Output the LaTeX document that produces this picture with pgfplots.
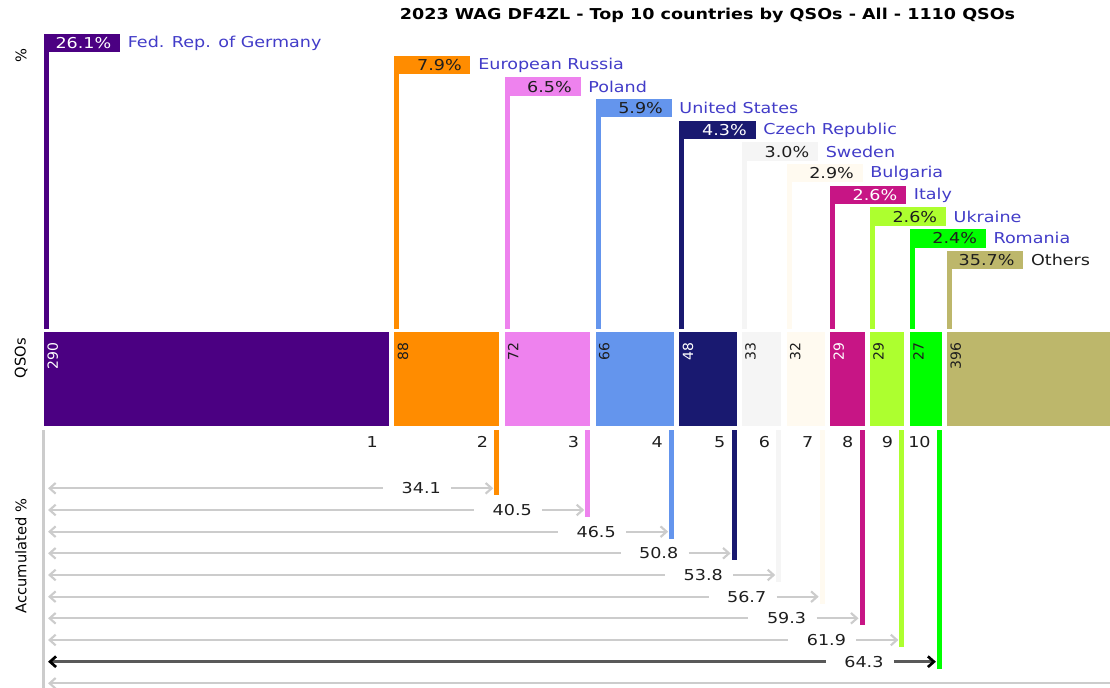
\documentclass[border=0pt]{standalone}
\usepackage{pgfplots}
\pgfplotsset{compat=1.18}
\usetikzlibrary{arrows.meta}
\usepackage{fontspec}
\setmainfont{DejaVu Sans}[FakeStretch=1.17]
\newfontfamily\rotfont{DejaVu Sans}[FakeStretch=1.0]
\newcommand\lbl{\fontsize{11.25pt}{13pt}\selectfont}
\newcommand\rotn{\rotfont\fontsize{10.5pt}{12pt}\selectfont}
\newcommand\axl{\rotfont\fontsize{11pt}{13pt}\selectfont}
\definecolor{cGer}{RGB}{75,0,130}
\definecolor{cRus}{RGB}{255,140,0}
\definecolor{cPol}{RGB}{238,130,238}
\definecolor{cUS}{RGB}{100,149,237}
\definecolor{cCze}{RGB}{25,25,112}
\definecolor{cSwe}{RGB}{245,245,245}
\definecolor{cBul}{RGB}{255,250,240}
\definecolor{cIta}{RGB}{199,21,133}
\definecolor{cUkr}{RGB}{173,255,47}
\definecolor{cRom}{RGB}{0,255,0}
\definecolor{cOth}{RGB}{189,183,107}
\definecolor{lblue}{RGB}{66,60,200}
\definecolor{agray}{RGB}{204,204,204}
\definecolor{tdark}{RGB}{30,30,30}
\begin{document}
\begin{tikzpicture}
\begin{axis}[
  width=832.5pt, height=516pt, scale only axis,
  xmin=-36.97, xmax=895.8, ymin=0, ymax=688, y dir=reverse,
  hide axis, clip=true,
  every node/.append style={inner sep=0pt},
  box/.style={draw=none},
  vline/.style={line width=3.75pt},
  gar/.style={draw=agray, line width=1.6pt},
  lefthead/.style={arrows={Straight Barb[length=4.5pt,width=8pt]-}},
  righthead/.style={arrows={-Straight Barb[length=4.5pt,width=8pt]}},
]
% ---------- QSO bars (x = cumulative QSOs with gaps) ----------
\addplot[box, fill=cGer] coordinates {(0,332) (290,332) (290,426) (0,426)};
\addplot[box, fill=cRus] coordinates {(294.5,332) (382.5,332) (382.5,426) (294.5,426)};
\addplot[box, fill=cPol] coordinates {(387,332) (459,332) (459,426) (387,426)};
\addplot[box, fill=cUS]  coordinates {(463.5,332) (529.5,332) (529.5,426) (463.5,426)};
\addplot[box, fill=cCze] coordinates {(534,332) (582,332) (582,426) (534,426)};
\addplot[box, fill=cSwe] coordinates {(586.5,332) (619.5,332) (619.5,426) (586.5,426)};
\addplot[box, fill=cBul] coordinates {(624,332) (656,332) (656,426) (624,426)};
\addplot[box, fill=cIta] coordinates {(660.5,332) (689.5,332) (689.5,426) (660.5,426)};
\addplot[box, fill=cUkr] coordinates {(694,332) (723,332) (723,426) (694,426)};
\addplot[box, fill=cRom] coordinates {(727.5,332) (754.5,332) (754.5,426) (727.5,426)};
\addplot[box, fill=cOth] coordinates {(759,332) (1155,332) (1155,426) (759,426)};
% ---------- percentage boxes ----------
\addplot[box, fill=cGer] coordinates {(0,34) (63.9,34) (63.9,52.5) (0,52.5)};
\addplot[box, fill=cRus] coordinates {(294.5,55.67) (358.4,55.67) (358.4,74.17) (294.5,74.17)};
\addplot[box, fill=cPol] coordinates {(387,77.33) (450.9,77.33) (450.9,95.83) (387,95.83)};
\addplot[box, fill=cUS]  coordinates {(463.5,99) (527.4,99) (527.4,117.5) (463.5,117.5)};
\addplot[box, fill=cCze] coordinates {(534,120.67) (597.9,120.67) (597.9,139.17) (534,139.17)};
\addplot[box, fill=cSwe] coordinates {(586.5,142.33) (650.4,142.33) (650.4,160.83) (586.5,160.83)};
\addplot[box, fill=cBul] coordinates {(624,164) (687.9,164) (687.9,182.5) (624,182.5)};
\addplot[box, fill=cIta] coordinates {(660.5,185.67) (724.4,185.67) (724.4,204.17) (660.5,204.17)};
\addplot[box, fill=cUkr] coordinates {(694,207.33) (757.9,207.33) (757.9,225.83) (694,225.83)};
\addplot[box, fill=cRom] coordinates {(727.5,229) (791.4,229) (791.4,247.5) (727.5,247.5)};
\addplot[box, fill=cOth] coordinates {(759,250.67) (822.9,250.67) (822.9,269.17) (759,269.17)};
% ---------- top vertical lines ----------
\addplot[vline, draw=cGer] coordinates {(2.1,44) (2.1,329)};
\addplot[vline, draw=cRus] coordinates {(296.6,65) (296.6,329)};
\addplot[vline, draw=cPol] coordinates {(389.1,86) (389.1,329)};
\addplot[vline, draw=cUS]  coordinates {(465.6,108) (465.6,329)};
\addplot[vline, draw=cCze] coordinates {(536.1,130) (536.1,329)};
\addplot[vline, draw=cSwe] coordinates {(588.6,151) (588.6,329)};
\addplot[vline, draw=cBul] coordinates {(626.1,173) (626.1,329)};
\addplot[vline, draw=cIta] coordinates {(662.6,195) (662.6,329)};
\addplot[vline, draw=cUkr] coordinates {(696.1,216) (696.1,329)};
\addplot[vline, draw=cRom] coordinates {(729.6,238) (729.6,329)};
\addplot[vline, draw=cOth] coordinates {(761.1,260) (761.1,329)};
% ---------- bottom section ----------
\addplot[draw=agray, line width=2.2pt] coordinates {(-0.4,430) (-0.4,688)};
\addplot[vline, draw=cRus] coordinates {(380.4,430) (380.4,495.3)};
\addplot[vline, draw=cPol] coordinates {(456.9,430) (456.9,517)};
\addplot[vline, draw=cUS]  coordinates {(527.4,430) (527.4,538.7)};
\addplot[vline, draw=cCze] coordinates {(579.9,430) (579.9,560.3)};
\addplot[vline, draw=cSwe] coordinates {(617.4,430) (617.4,582)};
\addplot[vline, draw=cBul] coordinates {(653.9,430) (653.9,603.7)};
\addplot[vline, draw=cIta] coordinates {(687.4,430) (687.4,625.3)};
\addplot[vline, draw=cUkr] coordinates {(720.9,430) (720.9,647)};
\addplot[vline, draw=cRom] coordinates {(752.4,430) (752.4,668.7)};
% accumulated arrows
\addplot[gar, lefthead]  coordinates {(3.4,488.3) (285,488.3)};
\addplot[gar, righthead] coordinates {(342.2,488.3) (377.5,488.3)};
\addplot[gar, lefthead]  coordinates {(3.4,510) (361.5,510)};
\addplot[gar, righthead] coordinates {(418.7,510) (454,510)};
\addplot[gar, lefthead]  coordinates {(3.4,531.7) (432,531.7)};
\addplot[gar, righthead] coordinates {(489.2,531.7) (524.5,531.7)};
\addplot[gar, lefthead]  coordinates {(3.4,553.3) (484.5,553.3)};
\addplot[gar, righthead] coordinates {(541.7,553.3) (577,553.3)};
\addplot[gar, lefthead]  coordinates {(3.4,575) (522,575)};
\addplot[gar, righthead] coordinates {(579.2,575) (614.5,575)};
\addplot[gar, lefthead]  coordinates {(3.4,596.7) (558.5,596.7)};
\addplot[gar, righthead] coordinates {(615.7,596.7) (651,596.7)};
\addplot[gar, lefthead]  coordinates {(3.4,618.3) (592,618.3)};
\addplot[gar, righthead] coordinates {(649.2,618.3) (684.5,618.3)};
\addplot[gar, lefthead]  coordinates {(3.4,640) (625.5,640)};
\addplot[gar, righthead] coordinates {(682.7,640) (718,640)};
\addplot[draw=black!65, line width=2pt, arrows={Straight Barb[length=4.5pt,width=8pt,color=black]-}] coordinates {(3.4,661.7) (657,661.7)};
\addplot[draw=black!65, line width=2pt, arrows={-Straight Barb[length=4.5pt,width=8pt,color=black]}] coordinates {(714.2,661.7) (749.5,661.7)};
\addplot[gar, lefthead]  coordinates {(3.4,683.3) (1057.5,683.3)};
% ---------- texts ----------
\node[font=\lbl\bfseries, text=black] at (axis cs:557.6,15) {2023 WAG DF4ZL - Top 10 countries by QSOs - All - 1110 QSOs};
\node[font=\axl, rotate=90] at (axis cs:-19.3,56) {\%};
\node[font=\axl, rotate=90] at (axis cs:-19.3,358) {QSOs};
\node[font=\axl, rotate=90] at (axis cs:-19.3,556) {Accumulated \%};
% percentages
\node[font=\lbl, anchor=east, text=white] at (axis cs:60.5,43.25) {26.1\%};
\node[font=\lbl, anchor=east, text=tdark] at (axis cs:355,64.92) {7.9\%};
\node[font=\lbl, anchor=east, text=tdark] at (axis cs:447.5,86.58) {6.5\%};
\node[font=\lbl, anchor=east, text=tdark] at (axis cs:524,108.25) {5.9\%};
\node[font=\lbl, anchor=east, text=white] at (axis cs:594.5,129.92) {4.3\%};
\node[font=\lbl, anchor=east, text=tdark] at (axis cs:647,151.58) {3.0\%};
\node[font=\lbl, anchor=east, text=tdark] at (axis cs:684.5,173.25) {2.9\%};
\node[font=\lbl, anchor=east, text=white] at (axis cs:721,194.92) {2.6\%};
\node[font=\lbl, anchor=east, text=tdark] at (axis cs:754.5,216.58) {2.6\%};
\node[font=\lbl, anchor=east, text=tdark] at (axis cs:788,238.25) {2.4\%};
\node[font=\lbl, anchor=east, text=tdark] at (axis cs:819.5,259.92) {35.7\%};
% country names
\node[font=\lbl, anchor=west, text=lblue] at (axis cs:66.5,43.25) {Fed. Rep. of Germany};
\node[font=\lbl, anchor=west, text=lblue] at (axis cs:361,64.92) {European Russia};
\node[font=\lbl, anchor=west, text=lblue] at (axis cs:453.5,86.58) {Poland};
\node[font=\lbl, anchor=west, text=lblue] at (axis cs:530,108.25) {United States};
\node[font=\lbl, anchor=west, text=lblue] at (axis cs:600.5,129.92) {Czech Republic};
\node[font=\lbl, anchor=west, text=lblue] at (axis cs:653,151.58) {Sweden};
\node[font=\lbl, anchor=west, text=lblue] at (axis cs:690.5,173.25) {Bulgaria};
\node[font=\lbl, anchor=west, text=lblue] at (axis cs:727,194.92) {Italy};
\node[font=\lbl, anchor=west, text=lblue] at (axis cs:760.5,216.58) {Ukraine};
\node[font=\lbl, anchor=west, text=lblue] at (axis cs:794,238.25) {Romania};
\node[font=\lbl, anchor=west, text=tdark] at (axis cs:825.5,259.92) {Others};
% QSO counts (rotated)
\node[font=\rotn, rotate=90, anchor=east, text=white] at (axis cs:7.3,338) {290};
\node[font=\rotn, rotate=90, anchor=east, text=tdark] at (axis cs:301.8,338) {88};
\node[font=\rotn, rotate=90, anchor=east, text=tdark] at (axis cs:394.3,338) {72};
\node[font=\rotn, rotate=90, anchor=east, text=tdark] at (axis cs:470.8,338) {66};
\node[font=\rotn, rotate=90, anchor=east, text=white] at (axis cs:541.3,338) {48};
\node[font=\rotn, rotate=90, anchor=east, text=tdark] at (axis cs:593.8,338) {33};
\node[font=\rotn, rotate=90, anchor=east, text=tdark] at (axis cs:631.3,338) {32};
\node[font=\rotn, rotate=90, anchor=east, text=white] at (axis cs:667.8,338) {29};
\node[font=\rotn, rotate=90, anchor=east, text=tdark] at (axis cs:701.3,338) {29};
\node[font=\rotn, rotate=90, anchor=east, text=tdark] at (axis cs:734.8,338) {27};
\node[font=\rotn, rotate=90, anchor=east, text=tdark] at (axis cs:766.3,338) {396};
% rank numbers
\node[font=\lbl, anchor=east, text=tdark] at (axis cs:284.5,442) {1};
\node[font=\lbl, anchor=east, text=tdark] at (axis cs:377,442) {2};
\node[font=\lbl, anchor=east, text=tdark] at (axis cs:453.5,442) {3};
\node[font=\lbl, anchor=east, text=tdark] at (axis cs:524,442) {4};
\node[font=\lbl, anchor=east, text=tdark] at (axis cs:576.5,442) {5};
\node[font=\lbl, anchor=east, text=tdark] at (axis cs:614,442) {6};
\node[font=\lbl, anchor=east, text=tdark] at (axis cs:650.5,442) {7};
\node[font=\lbl, anchor=east, text=tdark] at (axis cs:684,442) {8};
\node[font=\lbl, anchor=east, text=tdark] at (axis cs:717.5,442) {9};
\node[font=\lbl, anchor=east, text=tdark] at (axis cs:749,442) {10};
% accumulated values
\node[font=\lbl, text=tdark] at (axis cs:317,488.3) {34.1};
\node[font=\lbl, text=tdark] at (axis cs:393.5,510) {40.5};
\node[font=\lbl, text=tdark] at (axis cs:464,531.7) {46.5};
\node[font=\lbl, text=tdark] at (axis cs:516.5,553.3) {50.8};
\node[font=\lbl, text=tdark] at (axis cs:554,575) {53.8};
\node[font=\lbl, text=tdark] at (axis cs:590.5,596.7) {56.7};
\node[font=\lbl, text=tdark] at (axis cs:624,618.3) {59.3};
\node[font=\lbl, text=tdark] at (axis cs:657.5,640) {61.9};
\node[font=\lbl, text=tdark] at (axis cs:689,661.7) {64.3};
\coordinate (bl) at (rel axis cs:0,0);
\coordinate (tr) at (rel axis cs:1,1);
\end{axis}
\pgfresetboundingbox
\path[use as bounding box] (bl) rectangle (tr);
\end{tikzpicture}
\end{document}
